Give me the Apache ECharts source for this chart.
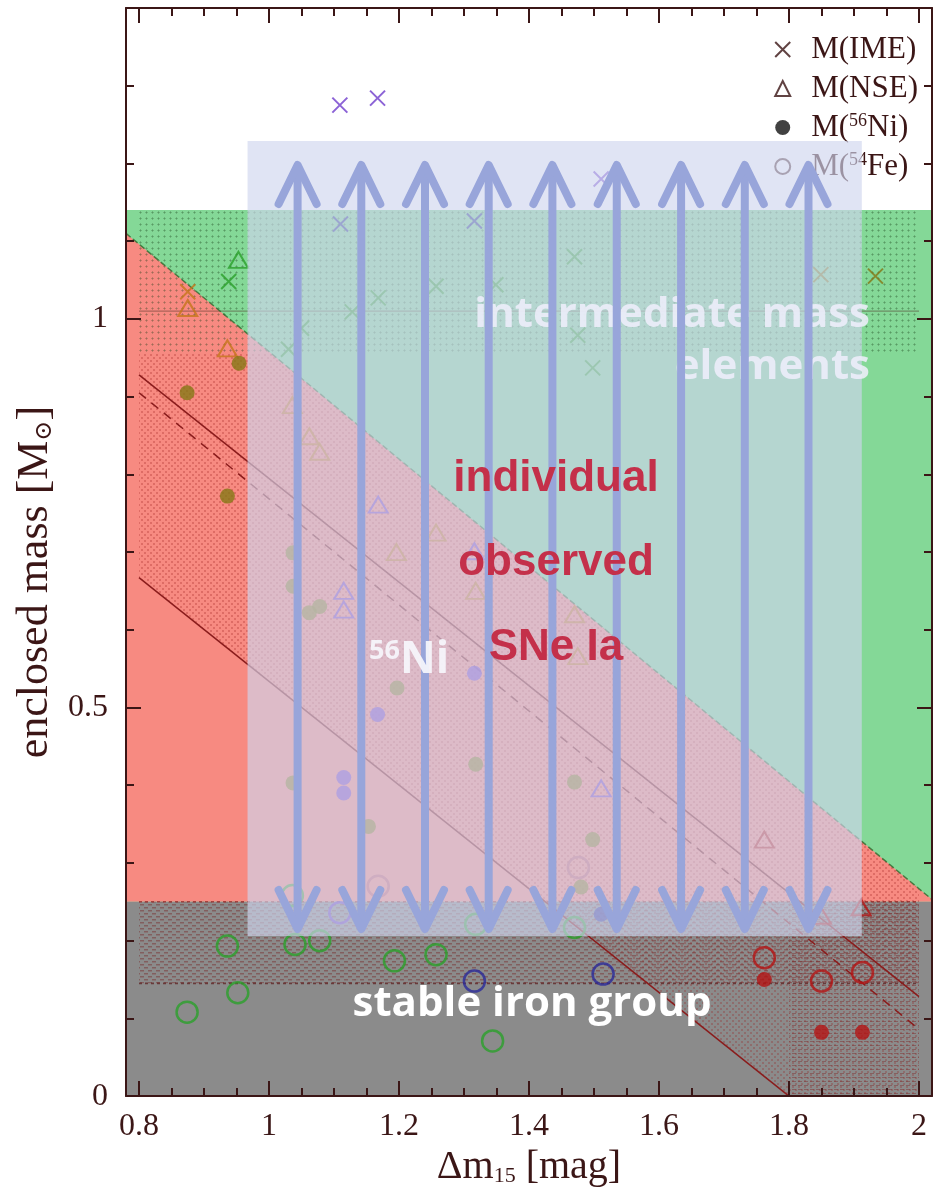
<!DOCTYPE html>
<html>
<head>
<meta charset="utf-8">
<script src="https://cdn.jsdelivr.net/npm/echarts@6/dist/echarts.min.js"></script>
<style>
html, body { margin: 0; padding: 0; background: #ffffff; }
#chart { width: 934px; height: 1192px; }
</style>
</head>
<body>
<div id="chart"></div>
<script>
// ---- axis ticks ----
const xMajorTicks = [0.8, 1.0, 1.2, 1.4, 1.6, 1.8, 2.0];
const xMinorTicks = [0.85, 0.9, 0.95, 1.05, 1.1, 1.15, 1.25, 1.3, 1.35, 1.45, 1.5, 1.55,
                     1.65, 1.7, 1.75, 1.85, 1.9, 1.95];
const yMajorTicks = [0, 0.5, 1.0];
const yMinorTicks = [0.1, 0.2, 0.3, 0.4, 0.6, 0.7, 0.8, 0.9, 1.1, 1.2, 1.3];

// ---- individual supernovae: [dm15, enclosed mass, colour group] ----
const imeMass = [
  [1.109, 1.275, 'p'], [1.167, 1.284, 'p'], [0.938, 1.048, 'g'], [0.875, 1.035, 'o'],
  [1.110, 1.122, 'n'], [1.316, 1.126, 'n'], [1.511, 1.180, 'p'], [1.470, 1.080, 'g'],
  [1.257, 1.042, 'g'], [1.349, 1.044, 'g'], [1.168, 1.027, 'g'], [1.128, 1.009, 'g'],
  [1.050, 0.988, 'g'], [1.030, 0.961, 'g'], [1.475, 0.979, 'g'], [1.498, 0.937, 'g'],
  [1.849, 1.057, 'ol'], [1.933, 1.055, 'ol']
];
const nseMass = [
  [0.953, 1.076, 'g'], [0.875, 1.014, 'o'], [0.936, 0.962, 'o'], [1.036, 0.889, 'o'],
  [1.062, 0.849, 'o'], [1.078, 0.829, 'o'], [1.168, 0.761, 'p'], [1.257, 0.725, 'o'],
  [1.196, 0.700, 'o'], [1.316, 0.701, 'p'], [1.318, 0.650, 'o'], [1.115, 0.650, 'p'],
  [1.115, 0.626, 'p'], [1.470, 0.620, 'o'], [1.475, 0.566, 'o'], [1.511, 0.396, 'p'],
  [1.762, 0.330, 'r'], [1.850, 0.232, 'r'], [1.911, 0.243, 'r']
];
const ni56Mass = [
  [0.954, 0.943, 'ol'], [0.874, 0.905, 'ol'], [0.936, 0.772, 'ol'], [1.037, 0.699, 'ol'],
  [1.037, 0.656, 'ol'], [1.062, 0.622, 'ol'], [1.078, 0.630, 'ol'], [1.197, 0.525, 'ol'],
  [1.167, 0.491, 'p'], [1.037, 0.403, 'ol'], [1.115, 0.410, 'p'], [1.115, 0.390, 'p'],
  [1.316, 0.544, 'p'], [1.318, 0.427, 'ol'], [1.470, 0.404, 'ol'], [1.153, 0.347, 'ol'],
  [1.498, 0.330, 'ol'], [1.480, 0.269, 'ol'], [1.511, 0.234, 'n'],
  [1.762, 0.150, 'r'], [1.850, 0.082, 'r'], [1.913, 0.082, 'r']
];
const fe54Mass = [
  [0.936, 0.193, 'g'], [0.952, 0.133, 'g'], [0.874, 0.108, 'g'], [1.040, 0.195, 'g'],
  [1.078, 0.200, 'g'], [1.193, 0.174, 'g'], [1.257, 0.182, 'g'], [1.316, 0.148, 'n'],
  [1.344, 0.071, 'g'], [1.470, 0.217, 'g'], [1.514, 0.157, 'n'], [1.109, 0.236, 'p'],
  [1.168, 0.270, 'k'], [1.476, 0.294, 'k'], [1.318, 0.221, 'g'], [1.036, 0.258, 'g'],
  [1.762, 0.178, 'r'], [1.850, 0.148, 'r'], [1.913, 0.159, 'r']
];

// ---- burning zones (solar masses) ----
const ironGroupTop = 0.25;
const imeZoneTop = 1.14;
const niImeBoundary = [[0.78, 1.11], [2.02, 0.253]];
const imeBand = [0.955, 1.14];
const imeBandLine = 1.01;
const ironBand = [0.145, 0.25];
const niLowerLine = [[0.8, 0.667], [1.8, 0.0]];
const niUpperLine = [[0.8, 0.928], [2.0, 0.128]];
const niDashedLine = [[0.8, 0.905], [2.0, 0.086]];

// ---- range covered by the individual observed SNe Ia ----
const arrowX = [1.044, 1.142, 1.240, 1.338, 1.436, 1.535, 1.634, 1.732, 1.830];
const arrowSpan = [0.215, 1.198];
const sampleBox = { x: [0.967, 1.912], y: [0.206, 1.229] };

const X_MIN = 0.78, X_MAX = 2.02, Y_MIN = 0, Y_MAX = 1.4;

// ---- styles ----
const AX = '#3b1616';
const SERIF = "'Liberation Serif', 'DejaVu Serif', serif";
const SANS = "'Liberation Sans', Arial, sans-serif";
const OPEN = "'Open Sans', 'DejaVu Sans', sans-serif";
const groupColors = {
  g: '#2aa02a', o: '#c4761a', ol: '#857815', p: '#6f3ccc',
  n: '#2a2a9a', r: '#b41414', k: '#c25a6a'
};
const ARROW = '#98a5da';

function boundaryAt(x) {
  const [[x0, y0], [x1, y1]] = niImeBoundary;
  return y0 + (y1 - y0) * (x - x0) / (x1 - x0);
}
function xAtBoundary(y) {
  const [[x0, y0], [x1, y1]] = niImeBoundary;
  return x0 + (x1 - x0) * (y - y0) / (y1 - y0);
}

function pattern(w, h, paint) {
  const c = document.createElement('canvas');
  c.width = w; c.height = h;
  paint(c.getContext('2d'));
  return { image: c, repeat: 'repeat' };
}
const imeDots = pattern(6, 6, ctx => {
  ctx.fillStyle = 'rgba(25,60,25,0.22)';
  ctx.fillRect(2, 1, 1, 3);
  ctx.fillRect(1, 2, 3, 1);
});
const niDots = pattern(6, 6, ctx => {
  ctx.fillStyle = 'rgba(150,25,25,0.26)';
  ctx.fillRect(0, 0, 2, 2);
  ctx.fillRect(3, 3, 2, 2);
});
const ironDashes = pattern(8, 6, ctx => {
  ctx.fillStyle = 'rgba(120,40,40,0.45)';
  ctx.fillRect(0, 1, 4, 1.5);
  ctx.fillRect(4, 4, 4, 1.5);
});
const rowDashes = pattern(6, 4, ctx => {
  ctx.fillStyle = 'rgba(125,45,45,0.45)';
  ctx.fillRect(0, 1, 4, 1);
});

// zone polygons in data coordinates
const rect = (x0, x1, y0, y1) => [[x0, y0], [x1, y0], [x1, y1], [x0, y1]];
const zoneFills = [
  { poly: rect(X_MIN, X_MAX, ironGroupTop, imeZoneTop), fill: '#84d897' },
  { poly: [[X_MIN, ironGroupTop], niImeBoundary[0], niImeBoundary[1], [X_MAX, ironGroupTop]], fill: '#f78a81' },
  { poly: rect(X_MIN, X_MAX, Y_MIN, ironGroupTop), fill: '#8b8b8b' },
  { poly: rect(0.8, 2.0, imeBand[0], imeBand[1]), fill: imeDots },
  { poly: [[0.8, imeBand[0]], [xAtBoundary(imeBand[0]), imeBand[0]], [2.0, boundaryAt(2.0)],
           [2.0, 0], niLowerLine[1], niLowerLine[0]], fill: niDots },
  { poly: rect(0.8, 2.0, ironBand[0], ironBand[1]), fill: ironDashes },
  { poly: rect(1.8, 2.0, 0, ironGroupTop), fill: rowDashes }
];

function polySeries(items, z) {
  return {
    type: 'custom', z, silent: true, clip: true,
    data: items.map(it => it.poly[0]),
    renderItem: (params, api) => {
      const it = items[params.dataIndex];
      return {
        type: 'polygon',
        shape: { points: it.poly.map(p => api.coord(p)) },
        style: { fill: it.fill, stroke: null }
      };
    }
  };
}

function lineSeries(points, color, width, type, z) {
  return {
    type: 'line', data: points, symbol: 'none', silent: true, z,
    lineStyle: { color, width, type }
  };
}

const toItems = (list, key) => list.map(([x, y, g]) => ({
  value: [x, y],
  itemStyle: key === 'fill' ? { color: groupColors[g] } : { color: 'none', borderColor: groupColors[g] }
}));

const crossPath = 'path://M0 0L10 10M10 0L0 10';

function tickAxis(position, majors, minors, withLabels, isX) {
  const base = {
    type: 'value', min: isX ? X_MIN : Y_MIN, max: isX ? X_MAX : Y_MAX,
    position, splitLine: { show: false }, silent: true, z: 10
  };
  const major = Object.assign({}, base, {
    axisLine: { show: true, onZero: false, lineStyle: { color: AX, width: 2 } },
    axisTick: { show: true, inside: true, length: 15, customValues: majors, lineStyle: { color: AX, width: 2 } },
    axisLabel: withLabels
      ? { show: true, customValues: majors, margin: isX ? 14 : 18, color: AX, fontFamily: SERIF, fontSize: 32 }
      : { show: false }
  });
  const minor = Object.assign({}, base, {
    axisLine: { show: false, onZero: false },
    axisTick: { show: true, inside: true, length: 8, customValues: minors, lineStyle: { color: AX, width: 2 } },
    axisLabel: { show: false }
  });
  return [major, minor];
}

const xAxes = [...tickAxis('bottom', xMajorTicks, xMinorTicks, true, true),
               ...tickAxis('top', xMajorTicks, xMinorTicks, false, true)];
const yAxes = [...tickAxis('left', yMajorTicks, yMinorTicks, true, false),
               ...tickAxis('right', yMajorTicks, yMinorTicks, false, false)];

Object.assign(xAxes[0], {
  name: 'Δm{sub|15} [mag]', nameLocation: 'middle', nameGap: 50,
  nameTextStyle: {
    fontFamily: SERIF, fontSize: 40, color: AX,
    rich: { sub: { fontFamily: SERIF, fontSize: 22, color: AX, verticalAlign: 'bottom', lineHeight: 22 } }
  }
});
Object.assign(yAxes[0], {
  name: 'enclosed mass [M{sub|⊙}]', nameLocation: 'middle', nameGap: 62, nameRotate: 90,
  nameTextStyle: {
    fontFamily: SERIF, fontSize: 44, color: AX, padding: [0, 60, 0, 0],
    rich: { sub: { fontFamily: "'DejaVu Serif', serif", fontSize: 24, color: AX, verticalAlign: 'bottom', lineHeight: 24 } }
  }
});

const legendNames = { 'M(IME)': 'M(IME)', 'M(NSE)': 'M(NSE)', 'M(56Ni)': 'M({sup|56}Ni)', 'M(54Fe)': 'M({sup|54}Fe)' };

const option = {
  animation: false,
  backgroundColor: '#ffffff',
  grid: { left: 126, right: 2, top: 8, bottom: 95, containLabel: false },
  xAxis: xAxes,
  yAxis: yAxes,
  legend: {
    orient: 'vertical', right: 16, top: 34, align: 'left', padding: 0,
    itemGap: 8, itemWidth: 15, itemHeight: 15, selectedMode: false, z: 4,
    formatter: name => legendNames[name],
    textStyle: {
      fontFamily: SERIF, fontSize: 31, color: AX, padding: [0, 0, 0, 16],
      rich: { sup: { fontFamily: SERIF, fontSize: 18, color: AX, verticalAlign: 'top', lineHeight: 18 } }
    },
    data: [
      { name: 'M(IME)', icon: crossPath, itemStyle: { color: 'none', borderColor: '#3a1414', borderWidth: 2 } },
      { name: 'M(NSE)', icon: 'triangle', itemStyle: { color: 'none', borderColor: '#3a1414', borderWidth: 2 } },
      { name: 'M(56Ni)', icon: 'circle', itemStyle: { color: '#111111', borderWidth: 0 } },
      { name: 'M(54Fe)', icon: 'circle', itemStyle: { color: 'none', borderColor: '#3a1414', borderWidth: 2 } }
    ]
  },
  series: [
    polySeries(zoneFills, 1),
    lineSeries([[0.8, imeBandLine], [2.0, imeBandLine]], 'rgba(80,50,40,0.45)', 1.3, 'solid', 2),
    lineSeries([[0.8, ironBand[1]], [2.0, ironBand[1]]], 'rgba(150,30,30,0.7)', 1.6, [3, 3], 2),
    lineSeries([[0.8, ironBand[0]], [2.0, ironBand[0]]], 'rgba(90,25,25,0.7)', 1.6, [3, 3], 2),
    lineSeries(niImeBoundary, 'rgba(40,100,40,0.75)', 1.5, [6, 3], 2),
    lineSeries(niLowerLine, '#8a1c1c', 1.5, 'solid', 2),
    lineSeries(niUpperLine, '#8a1c1c', 1.5, 'solid', 2),
    lineSeries(niDashedLine, '#8a1c1c', 1.5, [9, 7], 2),
    {
      name: 'M(IME)', type: 'scatter', z: 3, symbol: crossPath, symbolSize: 15,
      itemStyle: { color: 'none', borderColor: '#3a1414', borderWidth: 2 },
      data: toItems(imeMass, 'stroke')
    },
    {
      name: 'M(NSE)', type: 'scatter', z: 3, symbol: 'triangle', symbolSize: [19, 16],
      itemStyle: { color: 'none', borderColor: '#3a1414', borderWidth: 2 },
      data: toItems(nseMass, 'stroke')
    },
    {
      name: 'M(56Ni)', type: 'scatter', z: 3, symbol: 'circle', symbolSize: 15,
      itemStyle: { color: '#111111' },
      data: toItems(ni56Mass, 'fill')
    },
    {
      name: 'M(54Fe)', type: 'scatter', z: 3, symbol: 'circle', symbolSize: 21,
      itemStyle: { color: 'none', borderColor: '#3a1414', borderWidth: 2.5 },
      data: toItems(fe54Mass, 'stroke')
    },
    {
      // translucent box marking the observed sample
      type: 'custom', z: 5, silent: true,
      data: [[sampleBox.x[0], sampleBox.y[1]]],
      renderItem: (params, api) => {
        const a = api.coord([sampleBox.x[0], sampleBox.y[1]]);
        const b = api.coord([sampleBox.x[1], sampleBox.y[0]]);
        return {
          type: 'rect',
          shape: { x: a[0], y: a[1], width: b[0] - a[0], height: b[1] - a[1] },
          style: { fill: 'rgba(208,214,238,0.65)' }
        };
      }
    },
    {
      // double-headed arrows spanning the mass range
      type: 'custom', z: 7, silent: true,
      data: arrowX.map(x => [x, arrowSpan[1]]),
      renderItem: (params, api) => {
        const x = api.value(0);
        const top = api.coord([x, arrowSpan[1]]);
        const bot = api.coord([x, arrowSpan[0]]);
        const style = { stroke: ARROW, lineWidth: 8, lineCap: 'round', lineJoin: 'round', fill: null };
        return {
          type: 'group',
          children: [
            { type: 'line', shape: { x1: top[0], y1: top[1] + 3, x2: bot[0], y2: bot[1] - 3 }, style },
            { type: 'polyline', shape: { points: [[top[0] - 19, top[1] + 39], [top[0], top[1]], [top[0] + 19, top[1] + 39]] }, style },
            { type: 'polyline', shape: { points: [[bot[0] - 19, bot[1] - 39], [bot[0], bot[1]], [bot[0] + 19, bot[1] - 39]] }, style }
          ]
        };
      }
    }
  ],
  graphic: [
    { type: 'text', x: 870, y: 315, z: 6, silent: true,
      style: { text: 'intermediate mass', align: 'right', verticalAlign: 'middle',
               font: "bold 42px " + OPEN, fill: 'rgba(238,238,250,0.88)' } },
    { type: 'text', x: 870, y: 367, z: 6, silent: true,
      style: { text: 'elements', align: 'right', verticalAlign: 'middle',
               font: "bold 42px " + OPEN, fill: 'rgba(238,238,250,0.88)' } },
    { type: 'text', x: 556, y: 479, z: 8, silent: true,
      style: { text: 'individual', align: 'center', verticalAlign: 'middle',
               font: "bold 44px " + SANS, fill: '#c4304a' } },
    { type: 'text', x: 556, y: 563, z: 8, silent: true,
      style: { text: 'observed', align: 'center', verticalAlign: 'middle',
               font: "bold 44px " + SANS, fill: '#c4304a' } },
    { type: 'text', x: 556, y: 648, z: 8, silent: true,
      style: { text: 'SNe Ia', align: 'center', verticalAlign: 'middle',
               font: "bold 44px " + SANS, fill: '#c4304a' } },
    { type: 'text', x: 369, y: 660, z: 8, silent: true,
      style: { text: '{s|56}Ni', align: 'left', verticalAlign: 'middle',
               fontFamily: OPEN, fontWeight: 'bold', fontSize: 44, fill: 'rgba(246,246,252,0.92)',
               rich: { s: { fontFamily: OPEN, fontWeight: 'bold', fontSize: 27, verticalAlign: 'top', lineHeight: 27,
                            fill: 'rgba(246,246,252,0.92)' } } } },
    { type: 'text', x: 532, y: 1004, z: 8, silent: true,
      style: { text: 'stable iron group', align: 'center', verticalAlign: 'middle',
               font: "bold 42px " + OPEN, fill: '#ffffff' } }
  ]
};

const chart = echarts.init(document.getElementById('chart'));
chart.setOption(option);
</script>
</body>
</html>
